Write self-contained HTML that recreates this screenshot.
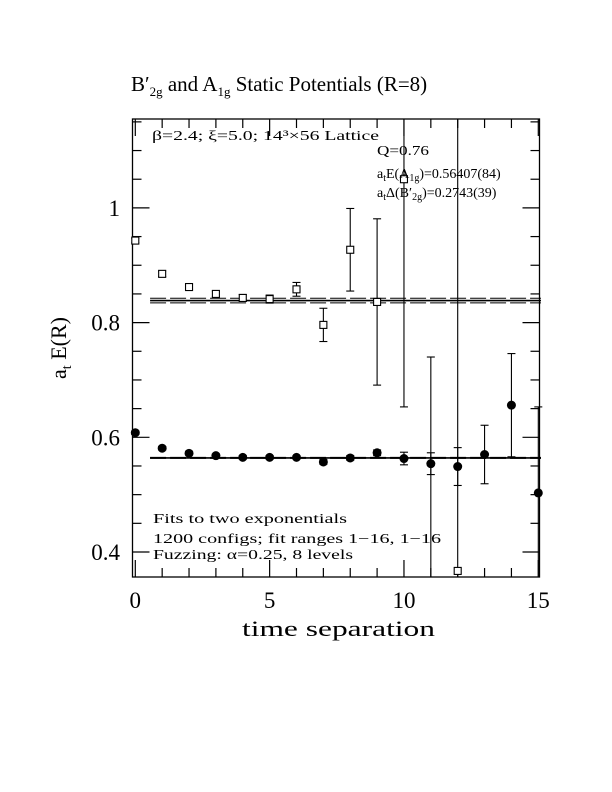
<!DOCTYPE html>
<html><head><meta charset="utf-8">
<style>
html,body{margin:0;padding:0;background:#fff;}
svg{display:block;font-family:"Liberation Serif",serif;}
</style></head>
<body>
<svg id="chart" width="612" height="792" viewBox="0 0 612 792" xmlns="http://www.w3.org/2000/svg">
<text x="131" y="91" font-size="21">B′<tspan font-size="13" dy="5">2g</tspan><tspan dy="-5"> and A</tspan><tspan font-size="13" dy="5">1g</tspan><tspan dy="-5"> Static Potentials (R=8)</tspan></text>
<rect x="132.5" y="119" width="407" height="458" fill="none" stroke="#000" stroke-width="1.3"/>
<g id="ticks"></g>
<g id="marks"></g>
<text x="152" y="140" font-size="14" textLength="227" lengthAdjust="spacingAndGlyphs">β=2.4; ξ=5.0; 14³×56 Lattice</text>
<text x="377" y="155" font-size="14" textLength="52" lengthAdjust="spacingAndGlyphs">Q=0.76</text>
<text x="377" y="178" font-size="14">a<tspan font-size="10" dy="3">t</tspan><tspan dy="-3">E(A</tspan><tspan font-size="10" dy="3">1g</tspan><tspan dy="-3">)=0.56407(84)</tspan></text>
<text x="377" y="197" font-size="14">a<tspan font-size="10" dy="3">t</tspan><tspan dy="-3">Δ(B′</tspan><tspan font-size="10" dy="3">2g</tspan><tspan dy="-3">)=0.2743(39)</tspan></text>
<text x="153" y="523" font-size="14" textLength="194" lengthAdjust="spacingAndGlyphs">Fits to two exponentials</text>
<text x="153" y="543" font-size="14" textLength="288" lengthAdjust="spacingAndGlyphs">1200 configs; fit ranges 1−16, 1−16</text>
<text x="153" y="559" font-size="14" textLength="200" lengthAdjust="spacingAndGlyphs">Fuzzing: α=0.25, 8 levels</text>
<text x="242" y="636" font-size="22" textLength="193" lengthAdjust="spacingAndGlyphs">time separation</text>
<text transform="translate(66,348) rotate(-90)" font-size="22" text-anchor="middle">a<tspan font-size="14" dy="5">t</tspan><tspan dy="-5"> E(R)</tspan></text>
</svg>
<script>
const times=[0,1,2,3,4,5,6,7,8,9,10,11,12,13,14,15];
const a1gValues=[0.608,0.581,0.572,0.568,0.565,0.565,0.565,0.557,0.564,0.573,0.563,0.554,0.549,0.570,0.656,0.503];
const a1gErrors=[0.003,0.003,0.003,0.003,0.003,0.003,0.003,0.004,0.004,0.005,0.011,0.019,0.033,0.051,0.09,0.15];
const b2gTimes=[0,1,2,3,4,5,6,7,8,9,10,11,12];
const b2gValues=[0.943,0.885,0.862,0.850,0.843,0.841,0.858,0.796,0.927,0.836,1.05,0.30,0.367];
const b2gErrors=[0.004,0.005,0.005,0.005,0.006,0.007,0.012,0.029,0.072,0.145,0.397,0.44,0.8];
const a1gFit=0.56407, a1gFitErr=0.00084;
const b2gFit=0.8384, b2gFitErr=0.004;
const xTickLabels=[0,5,10,15];
const yTickLabels=[0.4,0.6,0.8,1];
const fitStart=0.55, fitEnd=15.1;

const X0=135.3,X1=538.3,TMIN=0,TMAX=15,YV0=0.4,YP0=552,YPU=573.5;
const FL=132.5,FR=539.5,FT=119,FB=577;
function sx(t){return X0+(t-TMIN)*(X1-X0)/(TMAX-TMIN);}
function sy(v){return YP0-(v-YV0)*YPU;}
const NS="http://www.w3.org/2000/svg";
function mk(tag,attrs,parent){const e=document.createElementNS(NS,tag);for(const k in attrs)e.setAttribute(k,attrs[k]);parent.appendChild(e);return e;}
const ticks=document.getElementById('ticks'),marks=document.getElementById('marks'),svg=document.getElementById('chart');
function clamp(y){return Math.max(FT,Math.min(FB,y));}
for(let t=0;t<=15;t++){const major=t%5===0;const len=major?17:9;
 const a=mk('line',{x1:sx(t),x2:sx(t),y1:FB,y2:FB-len,stroke:'#000','stroke-width':1.2},ticks);
 
 
 const b=mk('line',{x1:sx(t),x2:sx(t),y1:FT,y2:FT+len,stroke:'#000','stroke-width':1.2},ticks);
 
 }
xTickLabels.forEach(v=>{const tx=mk('text',{x:sx(v),y:608,'font-size':23,'text-anchor':'middle'},svg);tx.textContent=v;
 
 });
for(let i=0;;i++){const v=0.4+i*0.05-0.05;const y=sy(v);if(y<FT)break;if(y>FB)continue;
 const major=Math.abs((v*10)%2)<0.01||Math.abs((v*10)%2-2)<0.01;const len=major?17:9;
 const a=mk('line',{x1:FL,x2:FL+len,y1:y,y2:y,stroke:'#000','stroke-width':1.2},ticks);
 
 
 const b=mk('line',{x1:FR,x2:FR-len,y1:y,y2:y,stroke:'#000','stroke-width':1.2},ticks);
 
 }
yTickLabels.forEach(v=>{const tx=mk('text',{x:120,y:sy(v)+8,'font-size':23,'text-anchor':'end'},svg);tx.textContent=v;
 
 });
function fitLines(val,err,name,off){
 const l=mk('line',{x1:sx(fitStart),x2:sx(fitEnd),y1:sy(val),y2:sy(val),stroke:'#000','stroke-width':1.6},marks);
 
 
 [val-err,val+err].forEach(v=>{const y=sy(v)+(v>val?-off:off);const d=mk('line',{x1:sx(fitStart),x2:sx(fitEnd),y1:y,y2:y,stroke:'#000','stroke-width':1,'stroke-dasharray':'16,4'},marks);
 
 });
}
fitLines(b2gFit,b2gFitErr,'b2g',0);
fitLines(a1gFit,a1gFitErr,'a1g',0);
function errbar(x,v,e,name){const y1=sy(v+e),y2=sy(v-e);
 const l=mk('line',{x1:x,x2:x,y1:clamp(y1),y2:clamp(y2),stroke:'#000','stroke-width':1.1},marks);
 
 
 [y1,y2].forEach(y=>{if(y>=FT&&y<=FB){const c=mk('line',{x1:x-4,x2:x+4,y1:y,y2:y,stroke:'#000','stroke-width':1.1},marks);
 
 }});}
b2gTimes.forEach((t,i)=>{const x=sx(t),y=sy(b2gValues[i]);
 errbar(x,b2gValues[i],b2gErrors[i],'b2g-error-bar');
 if(y>=FT-3&&y<=FB+3){const r=mk('rect',{x:x-3.5,y:y-3.5,width:7,height:7,fill:'#fff',stroke:'#000','stroke-width':1.1},marks);
 
 }});
times.forEach((t,i)=>{const x=sx(t),y=sy(a1gValues[i]);
 errbar(x,a1gValues[i],a1gErrors[i],'a1g-error-bar');
 const c=mk('circle',{cx:x,cy:y,r:4.5,fill:'#000'},marks);
 
 });
</script>
</body></html>
